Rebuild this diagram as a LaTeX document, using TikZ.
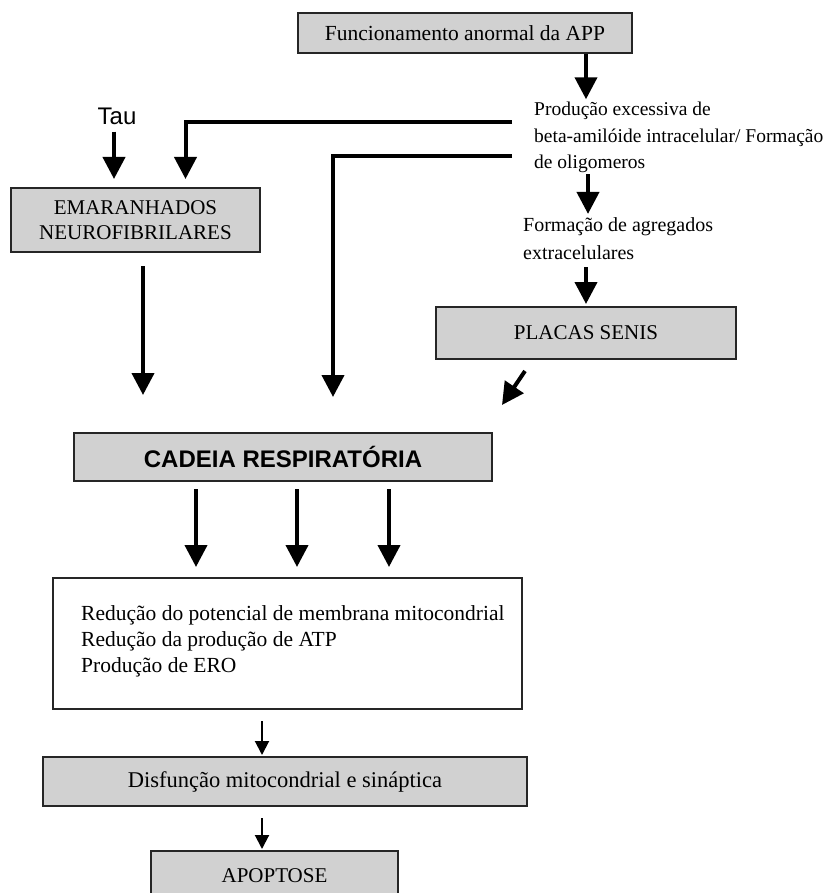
\documentclass[tikz,border=0pt]{standalone}
\usepackage{fontspec}
\setmainfont{Liberation Serif}
\setsansfont{Liberation Sans}
\usetikzlibrary{arrows,arrows.meta,positioning}
\definecolor{boxgray}{gray}{0.82}
\tikzstyle{line} = [draw, line width=4pt, -{Triangle[width=22pt,length=22pt]}]
\tikzstyle{thinline} = [draw, line width=2pt, -{Triangle[width=14pt,length=14pt]}]
\tikzstyle{gbox} = [rectangle, draw=black!85, line width=2pt, fill=boxgray, text centered, inner sep=0pt, font=\fontsize{21}{25}\selectfont]
\tikzstyle{wbox} = [rectangle, draw=black!85, line width=2pt, fill=white, inner sep=0pt]
\tikzstyle{txt} = [align=left, inner sep=0pt, anchor=base west]

\begin{document}
\begin{tikzpicture}[x=1pt, y=-1pt]
			\useasboundingbox [fill=white] (0,0) rectangle (824,893);
			\node [gbox, minimum width=334pt, minimum height=40pt, font=\fontsize{21.5}{25}\selectfont] (app) at (465,33) {Funcionamento anormal da APP};
			\node [txt, font=\fontsize{19.5}{26.5}\selectfont] (prod) at (534,169) {Produção excessiva de\\beta-amilóide intracelular/ Formação\\de oligomeros};
			\node [txt, font=\fontsize{20}{28}\selectfont] (form) at (523,259) {Formação de agregados\\extracelulares};
			\node [gbox, minimum width=300pt, minimum height=52pt] (placas) at (586,333) {PLACAS SENIS};
			\node [font=\fontsize{24}{28}\sffamily, inner sep=0pt] (tau) at (117,116) {Tau};
			\node [gbox, align=center, minimum width=249pt, minimum height=64pt] (ema) at (135.5,220) {EMARANHADOS\\NEUROFIBRILARES};
			
			\node [gbox, minimum width=418pt, minimum height=48pt, font=\fontsize{24}{28}\sffamily\bfseries] (cadeia) at (283,457) {CADEIA RESPIRATÓRIA};
			\node [wbox, minimum width=469pt, minimum height=131pt] (mito) at (287.5,643.5) {};
			\node [txt, font=\fontsize{21.5}{26}\selectfont] (mitotxt) at (81,672) {Redução do potencial de membrana mitocondrial\\Redução da produção de ATP\\Produção de ERO};
			\node [gbox, minimum width=484pt, minimum height=49pt, font=\fontsize{22.5}{25}\selectfont] (disf) at (285,781.5) {Disfunção mitocondrial e sináptica};
			\node [gbox, below of=disf, node distance=94pt, xshift=-10.5pt, minimum width=247pt, minimum height=49pt] (apop) {APOPTOSE};
			
			\coordinate (p1) at (512,122);
			\coordinate (p2) at (512,156);
			
			% amiloide
			\path [line, shorten >=3pt] ([xshift=121pt]app.south) -- ([xshift=121pt]app.south |- prod.north);
			\path [line, shorten <=1pt, shorten >=3pt] (prod.south -| 588,0) -- (form.north -| 588,0);
			\path [line, shorten <=8pt, shorten >=2pt] (form.south -| placas.north) -- (placas.north);
			\path [line] ([xshift=-61pt, yshift=-11pt]placas.south) -- ++(-23,34);
			
			% tau
			\path [line, shorten <=7pt, shorten >=8pt] ([xshift=-3pt]tau.south) -- ([xshift=-3pt]tau.south |- ema.north);
			\path [line, shorten >=8pt] (p1) -| ([xshift=50pt]ema.north);
			\path [line, shorten >=35pt] (p2) -| ([xshift=50pt]cadeia.north);
			\path [line, shorten <=13pt, shorten >=37pt] ([xshift=7.5pt]ema.south) -- ([xshift=7.5pt]ema.south |- cadeia.north);
			
			% cadeia
			\foreach \dx in {-87,14,106}
				\path [line, shorten <=7pt, shorten >=10pt] ([xshift=\dx pt]cadeia.south) -- ([xshift=\dx pt]cadeia.south |- mito.north);
			\path [thinline, shorten <=11pt, shorten >=1pt] ([xshift=-25.5pt]mito.south) -- ([xshift=-25.5pt]mito.south |- disf.north);
			\path [thinline, shorten <=11pt, shorten >=1pt] ([xshift=-23pt]disf.south) -- ([xshift=-23pt]disf.south |- apop.north);
		\end{tikzpicture}
\end{document}
